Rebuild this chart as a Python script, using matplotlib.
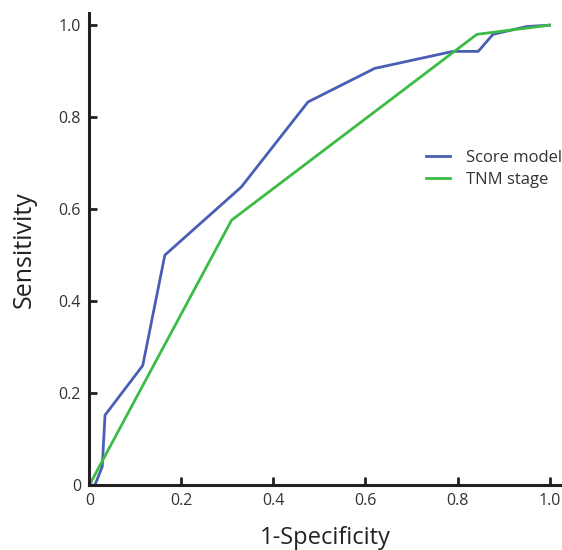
import matplotlib
matplotlib.use("Agg")
import matplotlib.pyplot as plt

# ROC curve points
score_fpr = [0.0, 0.012, 0.028, 0.034, 0.116, 0.164, 0.33, 0.475, 0.62, 0.79, 0.845, 0.877, 0.95, 1.0]
score_tpr = [0.0, 0.0, 0.04, 0.152, 0.26, 0.50, 0.648, 0.833, 0.906, 0.943, 0.943, 0.98, 0.997, 1.0]

tnm_fpr = [0.0, 0.309, 0.842, 1.0]
tnm_tpr = [0.0, 0.576, 0.98, 1.0]

ticks = [0, 0.2, 0.4, 0.6, 0.8, 1.0]
tick_labels = ["0", "0.2", "0.4", "0.6", "0.8", "1.0"]

plt.rcParams['font.family'] = ['Open Sans', 'DejaVu Sans']

fig = plt.figure(figsize=(5.62, 5.5), dpi=100)
ax = fig.add_axes([0.159, 0.118, 0.841, 0.858])

ax.plot(score_fpr, score_tpr, color='#4a5fb3', lw=2, label='Score model')
ax.plot(tnm_fpr, tnm_tpr, color='#3dbb47', lw=2, label='TNM stage')

ax.set_xlim(0, 1.027)
ax.set_ylim(0, 1.026)
ax.set_xticks(ticks)
ax.set_xticklabels(tick_labels)
ax.set_yticks(ticks)
ax.set_yticklabels(tick_labels)

for s in ['top', 'right']:
    ax.spines[s].set_visible(False)
for s in ['left', 'bottom']:
    ax.spines[s].set_linewidth(2.2)
    ax.spines[s].set_color('#231f20')

ax.tick_params(direction='in', length=6, width=2, color='#231f20',
               labelsize=11.5, labelcolor='#333333', pad=6)

ax.set_xlabel('1-Specificity', fontsize=17, color='#222222', labelpad=12)
ax.set_ylabel('Sensitivity', fontsize=18, color='#222222', labelpad=16)

ax.legend(loc='center left', bbox_to_anchor=(0.68, 0.67), frameon=False,
          fontsize=12, handlelength=1.45, handletextpad=0.95,
          labelspacing=0.35, labelcolor='#333333')

fig.savefig('out.png', dpi=100)
